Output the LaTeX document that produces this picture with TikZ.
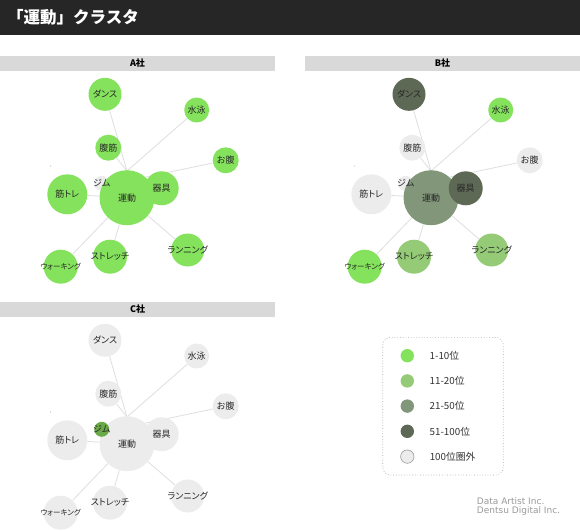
\documentclass[tikz,border=0pt]{standalone}
\usepackage{fontspec}
\setmainfont{Noto Sans CJK JP}
\newfontfamily\jpfont[RawFeature=+palt]{Noto Sans CJK JP}
\newfontfamily\credfont{DejaVu Sans}
\usetikzlibrary{positioning,backgrounds}

\definecolor{rankA}{HTML}{84E25C}
\definecolor{rankB}{HTML}{95CB77}
\definecolor{rankC}{HTML}{82967A}
\definecolor{rankD}{HTML}{5E6955}
\definecolor{rankOut}{HTML}{ECECEC}
\definecolor{gymC}{HTML}{6BAA48}
\definecolor{edgegray}{HTML}{DEDEDE}
\definecolor{barback}{HTML}{262626}
\definecolor{headgray}{HTML}{D9D9D9}

\begin{document}
\begin{tikzpicture}[x=1pt,y=-1pt,
    bub/.style={circle,inner sep=0pt,minimum size=#1},
    every label/.style={font=\jpfont\fontsize{9}{10}\selectfont,text=black!85,inner sep=0pt},
    lbl/.style={font=\jpfont\fontsize{9}{10}\selectfont,text=black!85,inner sep=0pt},
    small/.style={font=\jpfont\fontsize{7.5}{8}\selectfont},
    edge/.style={draw=edgegray,line width=0.8pt},
    head/.style={fill=headgray,minimum width=275,minimum height=15,inner sep=0pt,font=\bfseries\fontsize{9}{10}\selectfont},
    dot/.style={circle,fill=gray!50,inner sep=0pt,minimum size=1.4},
    legdot/.style={circle,inner sep=0pt,minimum size=13.4},
    legtxt/.style={inner sep=0pt,font=\fontsize{9.8}{11}\selectfont,text=black!80},
    credit/.style={anchor=west,inner sep=0pt,text=gray!80,font=\credfont\fontsize{9}{10}\selectfont}]

    \useasboundingbox (0,0) rectangle (580,530);

    % title
    \fill[barback] (0,0) rectangle (580,35);
    \node[anchor=west,inner sep=0pt,text=white,font=\bfseries\fontsize{16.5}{18}\selectfont] (title) at (7,17) {「運動」クラスタ};

    % A
    \begin{scope}
    \node[head] (Ahead) at (137.5,63.5) {A社};
    \coordinate (Ahub) at (127,171);
    \coordinate (Ahub2) at (127,181);
    \node[dot] (Adot) at (50.7,166) {};

    \node[bub=33,fill=rankA,label=center:ダンス] (Adance) at (105,94.3) {};
    \node[bub=25,fill=rankA,label=center:水泳] (Aswim) at (196.7,110) {};
    \node[bub=26,fill=rankA,label=center:腹筋] (Aabs) at (108.3,147.7) {};
    \node[bub=26,fill=rankA,label=center:お腹] (Abelly) at (225.7,160.3) {};
    \node[bub=15,fill=rankOut] (Agym) at (101.7,183.3) {};
    \node[bub=40,fill=rankA,label=center:筋トレ] (Amuscle) at (67.3,194.3) {};
    \node[bub=55,fill=rankA,label=center:運動] (Amain) at (127,197.7) {};
    \node[bub=34,fill=rankA,label=center:器具] (Agear) at (161.7,188.3) {};
    \node[bub=34,fill=rankA,label=center:ストレッチ] (Astretch) at (110,256.7) {};
    \node[bub=33,fill=rankA,label=center:ランニング] (Arun) at (187.7,250) {};
    \node[bub=34,fill=rankA,label={[small]center:ウォーキング}] (Awalk) at (60.7,266.7) {};
    \node[lbl] at (Agym) {ジム};

    \begin{scope}[on background layer]
    \draw[edge] (Adance) -- (Ahub);
    \draw[edge] (Aabs) -- (Ahub);
    \draw[edge] (Aswim) -- (Ahub);
    \draw[edge] (Abelly) -- (Ahub2);
    \draw[edge] (Amuscle) -- (Amain);
    \draw[edge] (Awalk) -- (Amain);
    \draw[edge] (Astretch) -- (Amain);
    \draw[edge] (Arun) -- (Amain);
    \end{scope}
    \end{scope}

    % B
    \begin{scope}[shift={(304,0)}]
    \node[head] (Bhead) at (138.5,63.5) {B社};
    \coordinate (Bhub) at (127,171);
    \coordinate (Bhub2) at (127,181);
    \node[dot] (Bdot) at (50.7,166) {};

    \node[bub=33,fill=rankD,label=center:ダンス] (Bdance) at (105,94.3) {};
    \node[bub=25,fill=rankA,label=center:水泳] (Bswim) at (196.7,110) {};
    \node[bub=26,fill=rankOut,label=center:腹筋] (Babs) at (108.3,147.7) {};
    \node[bub=26,fill=rankOut,label=center:お腹] (Bbelly) at (225.7,160.3) {};
    \node[bub=15,fill=rankOut] (Bgym) at (101.7,183.3) {};
    \node[bub=40,fill=rankOut,label=center:筋トレ] (Bmuscle) at (67.3,194.3) {};
    \node[bub=55,fill=rankC,label=center:運動] (Bmain) at (127,197.7) {};
    \node[bub=34,fill=rankD,label=center:器具] (Bgear) at (161.7,188.3) {};
    \node[bub=34,fill=rankB,label=center:ストレッチ] (Bstretch) at (110,256.7) {};
    \node[bub=33,fill=rankB,label=center:ランニング] (Brun) at (187.7,250) {};
    \node[bub=34,fill=rankA,label={[small]center:ウォーキング}] (Bwalk) at (60.7,266.7) {};
    \node[lbl] at (Bgym) {ジム};

    \begin{scope}[on background layer]
    \draw[edge] (Bdance) -- (Bhub);
    \draw[edge] (Babs) -- (Bhub);
    \draw[edge] (Bswim) -- (Bhub);
    \draw[edge] (Bbelly) -- (Bhub2);
    \draw[edge] (Bmuscle) -- (Bmain);
    \draw[edge] (Bwalk) -- (Bmain);
    \draw[edge] (Bstretch) -- (Bmain);
    \draw[edge] (Brun) -- (Bmain);
    \end{scope}
    \end{scope}

    % C
    \begin{scope}[shift={(0,246)}]
    \node[head] (Chead) at (137.5,63.5) {C社};
    \coordinate (Chub) at (127,171);
    \coordinate (Chub2) at (127,181);
    \node[dot] (Cdot) at (50.7,166) {};

    \node[bub=33,fill=rankOut,label=center:ダンス] (Cdance) at (105,94.3) {};
    \node[bub=25,fill=rankOut,label=center:水泳] (Cswim) at (196.7,110) {};
    \node[bub=26,fill=rankOut,label=center:腹筋] (Cabs) at (108.3,147.7) {};
    \node[bub=26,fill=rankOut,label=center:お腹] (Cbelly) at (225.7,160.3) {};
    \node[bub=40,fill=rankOut,label=center:筋トレ] (Cmuscle) at (67.3,194.3) {};
    \node[bub=55,fill=rankOut,label=center:運動] (Cmain) at (127,197.7) {};
    \node[bub=15,fill=gymC] (Cgym) at (101.7,183.3) {};
    \node[bub=34,fill=rankOut,label=center:器具] (Cgear) at (161.7,188.3) {};
    \node[bub=34,fill=rankOut,label=center:ストレッチ] (Cstretch) at (110,256.7) {};
    \node[bub=33,fill=rankOut,label=center:ランニング] (Crun) at (187.7,250) {};
    \node[bub=34,fill=rankOut,label={[small]center:ウォーキング}] (Cwalk) at (60.7,266.7) {};
    \node[lbl] at (Cgym) {ジム};

    \begin{scope}[on background layer]
    \draw[edge] (Cdance) -- (Chub);
    \draw[edge] (Cabs) -- (Chub);
    \draw[edge] (Cswim) -- (Chub);
    \draw[edge] (Cbelly) -- (Chub2);
    \draw[edge] (Cmuscle) -- (Cmain);
    \draw[edge] (Cwalk) -- (Cmain);
    \draw[edge] (Cstretch) -- (Cmain);
    \draw[edge] (Crun) -- (Cmain);
    \end{scope}
    \end{scope}

    % legend
    \node[draw=gray!70,dotted,line width=0.7pt,rounded corners=8pt,minimum width=120.6,minimum height=137.7] (legend) at (443,406.2) {};
    \node[legdot,fill=rankA] (L1) at (407.3,355.7) {};
    \node[legdot,fill=rankB,below=11.4pt of L1] (L2) {};
    \node[legdot,fill=rankC,below=11.4pt of L2] (L3) {};
    \node[legdot,fill=rankD,below=11.4pt of L3] (L4) {};
    \node[legdot,fill=rankOut,draw=gray!80,line width=0.6pt,below=11.4pt of L4] (L5) {};
    \node[legtxt,right=15.3pt of L1] (T1) {1-10位};
    \node[legtxt,right=15.3pt of L2] (T2) {11-20位};
    \node[legtxt,right=15.3pt of L3] (T3) {21-50位};
    \node[legtxt,right=15.3pt of L4] (T4) {51-100位};
    \node[legtxt,right=15.3pt of L5] (T5) {100位圏外};

    % credits
    \node[credit] (cred1) at (476.7,501) {Data Artist Inc.};
    \node[credit] (cred2) at (476.7,511) {Dentsu Digital Inc.};

\end{tikzpicture}
\end{document}
